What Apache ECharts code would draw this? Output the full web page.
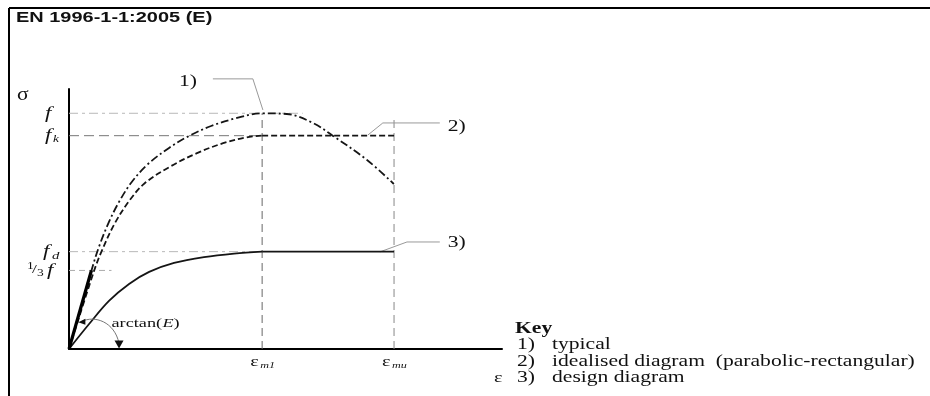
<!DOCTYPE html>
<html><head><meta charset="utf-8">
<script src="https://cdn.jsdelivr.net/npm/echarts@6/dist/echarts.min.js"></script>
<style>html,body{margin:0;padding:0;background:#fff}#c{width:930px;height:396px}</style>
</head><body><div id="c"></div>
<script>
(function () {
// ---- data (strain in units of εm1, stress in units of f) ----
const headerText = 'EN 1996-1-1:2005 (E)';
const typical = [[0,0],[0.116,0.332],[0.155,0.433],[0.207,0.539],[0.259,0.624],[0.321,0.704],[0.404,0.781],[0.518,0.853],[0.622,0.904],[0.736,0.946],[0.870,0.980],[1.0,1.0],[1.128,0.997],[1.263,0.959],[1.367,0.904],[1.543,0.802],[1.682,0.700]];
const idealisedRise = [[0,0],[0.130,0.332],[0.168,0.413],[0.237,0.533],[0.315,0.632],[0.392,0.703],[0.522,0.773],[0.660,0.830],[0.798,0.873],[0.92,0.898],[1.0,0.905]];
const idealisedFlat = [[1.0,0.905],[1.683,0.905]];
const designRise = [[0,0],[0.104,0.106],[0.207,0.204],[0.311,0.276],[0.415,0.327],[0.544,0.365],[0.699,0.390],[0.855,0.405],[1.0,0.413]];
const designFlat = [[1.0,0.413],[1.683,0.413]];
const tangent = [[0,0],[0.116,0.333]];
const strainLevels = [1.0, 1.683];          // εm1, εmu
const strainSubs = ['m1', 'mu'];
const stressLevels = [1.0, 0.905, 0.413, 1/3]; // f, fk, fd, 1/3 f
const keyNums = ['1)', '2)', '3)'];
const keyTexts = ['typical', 'idealised diagram  (parabolic-rectangular)', 'design diagram'];
const xMax = 2.242, yMax = 1.103;

const chart = echarts.init(document.getElementById('c'), null, {renderer: 'canvas'});

function refLine(data, color, type, width) {
  return {type: 'line', data, symbol: 'none', silent: true, z: 1, clip: false, animation: false,
          lineStyle: {color, type, width: width || 1}};
}
function curve(name, data, type, smooth) {
  return {name, type: 'line', data, symbol: 'none', smooth: smooth || false, z: 3, animation: false, silent: true,
          lineStyle: {color: '#151515', width: 1.8, type}};
}

const series = [
  refLine([[0, stressLevels[0]], [1.21, stressLevels[0]]], '#b8b8b8', [9, 4, 3, 4], 1),
  refLine([[0, stressLevels[1]], [1.0, stressLevels[1]]], '#777', [10, 5], 1),
  refLine([[0, stressLevels[2]], [1.0, stressLevels[2]]], '#b8b8b8', [9, 4, 3, 4], 1),
  refLine([[0, stressLevels[3]], [0.22, stressLevels[3]]], '#aaa', [6, 4], 1),
  refLine([[strainLevels[0], 0], [strainLevels[0], stressLevels[0]]], '#666', [8, 5], 1),
  refLine([[strainLevels[1], 0], [strainLevels[1], 0.972]], '#888', [8, 5], 1),
  refLine([[0.745, 1.146], [0.952, 1.146], [1.004, 1.014]], '#999', 'solid', 1),
  refLine([[1.920, 0.959], [1.625, 0.959], [1.548, 0.908]], '#999', 'solid', 1),
  refLine([[1.920, 0.454], [1.750, 0.454], [1.610, 0.412]], '#999', 'solid', 1),
  curve('typical', typical, [8, 3, 2, 3], 0.35),
  curve('idealised', idealisedRise, [6, 3], 0.35),
  curve('idealised-flat', idealisedFlat, [6, 3], false),
  curve('design', designRise, 'solid', 0.35),
  curve('design-flat', designFlat, 'solid', false),
  {name: 'tangent', type: 'line', data: tangent, symbol: 'none', z: 4, animation: false, silent: true,
   lineStyle: {color: '#000', width: 3.2}}
];

chart.setOption({
  backgroundColor: '#fff',
  animation: false,
  grid: {left: 69, top: 89, width: 433, height: 260, containLabel: false},
  xAxis: {type: 'value', min: 0, max: xMax, axisLine: {onZero: false, lineStyle: {color: '#000', width: 2}},
          axisTick: {show: false}, axisLabel: {show: false}, splitLine: {show: false}},
  yAxis: {type: 'value', min: 0, max: yMax, axisLine: {show: true, onZero: false, lineStyle: {color: '#000', width: 2}},
          axisTick: {show: false}, axisLabel: {show: false}, splitLine: {show: false}},
  series
});

const P = (x, y) => chart.convertToPixel({gridIndex: 0}, [x, y]);
const SX = 1.35;
const serif = '"Liberation Serif", "Times New Roman", serif';
function txt(text, x, y, o) {
  o = o || {};
  return {type: 'text', x, y, scaleX: o.sx || SX, z: 10, silent: true,
    style: {text, fill: o.fill || '#111', fontSize: o.size || 16, fontFamily: o.family || serif,
            fontWeight: o.weight || 'normal', fontStyle: o.style || 'normal',
            textAlign: o.align || 'left', align: o.align || 'left',
            textVerticalAlign: 'middle', verticalAlign: 'middle'}};
}

const g = [];
g.push({type: 'line', shape: {x1: 9, y1: 8, x2: 930, y2: 8}, style: {stroke: '#000', lineWidth: 2}, silent: true});
g.push({type: 'line', shape: {x1: 9, y1: 8, x2: 9, y2: 396}, style: {stroke: '#000', lineWidth: 2}, silent: true});
g.push(txt(headerText, 16, 18, {family: '"Liberation Sans", Arial, sans-serif', weight: 'bold', size: 15, sx: 1.33}));
const axTop = P(0, yMax);
g.push(txt('σ', axTop[0] - 52, axTop[1] + 6, {size: 18, sx: 1.2}));
const ax0 = P(0, 0)[0];
let p = P(0, stressLevels[0]);
g.push(txt('f', ax0 - 24, p[1], {style: 'italic', size: 17}));
p = P(0, stressLevels[1]);
g.push(txt('f', ax0 - 24, p[1], {style: 'italic', size: 17}));
g.push(txt('k', ax0 - 16, p[1] + 4, {style: 'italic', size: 10}));
p = P(0, stressLevels[2]);
g.push(txt('f', ax0 - 26, p[1], {style: 'italic', size: 17}));
g.push(txt('d', ax0 - 17, p[1] + 4, {style: 'italic', size: 11}));
p = P(0, stressLevels[3]);
g.push(txt('1', ax0 - 42, p[1] - 4, {size: 10}));
g.push(txt('/', ax0 - 37, p[1] - 1, {size: 13}));
g.push(txt('3', ax0 - 32, p[1] + 3, {size: 10}));
g.push(txt('f', ax0 - 22, p[1], {style: 'italic', size: 17}));
const ax0y = P(0, 0)[1];
strainLevels.forEach((v, i) => {
  const q = P(v, 0);
  g.push(txt('ε', q[0] - 12, ax0y + 13, {size: 15}));
  g.push(txt(strainSubs[i], q[0] - 2, ax0y + 17, {style: 'italic', size: 9}));
});
const al = P(0.22, 0.11);
g.push(txt('arctan(', al[0], al[1], {size: 13.5}));
g.push(txt('E', al[0] + 51, al[1], {size: 13.5, style: 'italic'}));
g.push(txt(')', al[0] + 62, al[1], {size: 13.5}));
const a0 = P(0.064, 0.116), c1 = P(0.133, 0.145), c2 = P(0.236, 0.115), a1 = P(0.259, 0.024);
g.push({type: 'bezierCurve', shape: {x1: a0[0], y1: a0[1], cpx1: c1[0], cpy1: c1[1], cpx2: c2[0], cpy2: c2[1], x2: a1[0], y2: a1[1]},
        style: {stroke: '#777', lineWidth: 1, fill: null}, silent: true, z: 9});
const tip = P(0.259, 0.002);
g.push({type: 'polygon', shape: {points: [[tip[0] - 4.5, tip[1] - 8], [tip[0] + 4.5, tip[1] - 8], [tip[0], tip[1]]]},
        style: {fill: '#111'}, silent: true, z: 9});
g.push({type: 'polygon', shape: {points: [[a0[0] - 3, a0[1] + 0.5], [a0[0] + 4, a0[1] - 3], [a0[0] + 4, a0[1] + 3]]},
        style: {fill: '#111'}, silent: true, z: 9});
const l1 = P(0.745, 1.146), l2 = P(1.920, 0.959), l3 = P(1.920, 0.454);
g.push(txt('1)', l1[0] - 34, l1[1] + 3));
g.push(txt('2)', l2[0] + 8, l2[1] + 4));
g.push(txt('3)', l3[0] + 8, l3[1] + 1));
g.push(txt('Key', 515, 329, {weight: 'bold'}));
keyNums.forEach((n, i) => {
  const y = 345 + i * 16.5;
  g.push(txt(n, 517, y));
  g.push(txt(keyTexts[i], 552, y));
});
g.push(txt('ε', 494, 378, {size: 15}));

chart.setOption({graphic: {elements: g}});
})();
</script>
</body></html>
